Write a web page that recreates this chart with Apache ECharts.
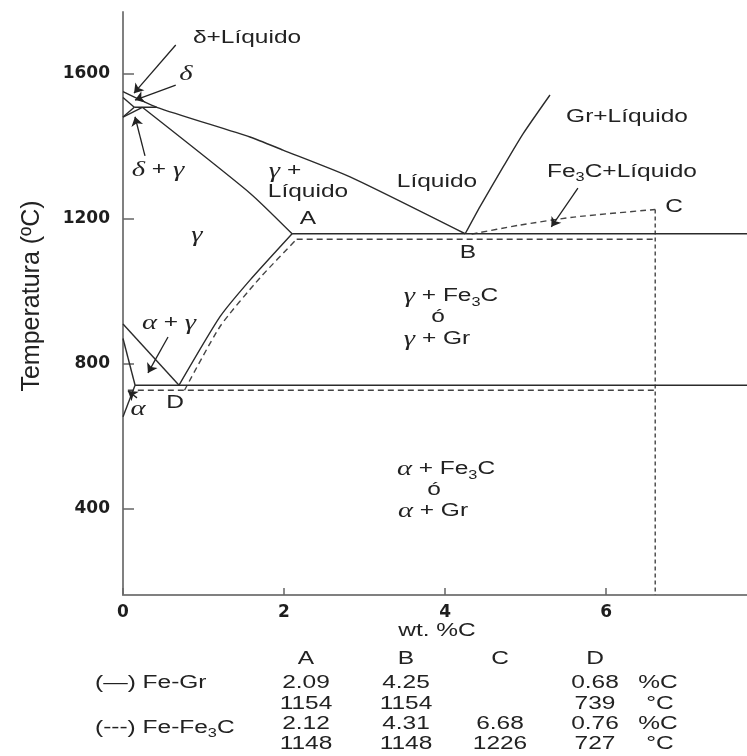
<!DOCTYPE html>
<html><head><meta charset="utf-8">
<script src="https://cdn.jsdelivr.net/npm/echarts@6/dist/echarts.min.js"></script>
<style>html,body{margin:0;padding:0;background:#fff;}#c{width:747px;height:756px;}</style>
</head><body><div id="c"></div>
<script>
// ---- data (wt.%C, temperature °C) ----
const xTicks = [0, 2, 4, 6];
const yTicks = [400, 800, 1200, 1600];
const liquidusToB = [[0,1551],[0.42,1508],[1.577,1426],[1.987,1390],[2.82,1316],[4.25,1159]];
const deltaSolidus = [[0,1535],[0.14,1508]];
const peritectic = [[0.14,1508],[0.42,1508]];
const deltaGammaLeft = [[0,1481],[0.14,1508]];
const deltaGammaRight = [[0,1481],[0.24,1508]];
const solidusToA = [[0.24,1508],[1.577,1271],[2.10,1159]];
const graphiteLiquidus = [[4.25,1159],[4.434,1234],[4.723,1344],[4.972,1436],[5.303,1542]];
const cementiteLiquidus = [[4.33,1158],[4.93,1183],[5.6,1205],[6.61,1226]];
const cementiteVertical = [[6.61,1226],[6.61,162]];
const eutecticGr = [[2.10,1159],[7.75,1159]];
const eutecticFe3C = [[2.157,1144],[6.61,1144]];
const acmGr = [[0.696,741],[1.205,930],[1.577,1031],[2.10,1159]];
const acmFe3C = [[0.764,727],[1.205,903],[1.70,1037],[2.157,1144]];
const eutectoidGr = [[0.15,741],[7.75,741]];
const eutectoidFe3C = [[0.06,727],[6.61,727]];
const a3Line = [[0,910],[0.696,741]];
const alphaUpper = [[0,870],[0.15,741]];
const alphaLower = [[0.15,741],[0,654]];
const arrows = [
  [[0.655,1680],[0.137,1547]],
  [[0.655,1569],[0.149,1528]],
  [[0.273,1374],[0.149,1482]],
  [[5.65,1285],[5.32,1178]],
  [[0.559,874],[0.31,775]],
  [[0.174,706],[0.062,725]]
];
// table
const tableCols = ['A','B','C','D'];
const feGrPct = ['2.09','4.25','','0.68'];
const feGrT = ['1154','1154','','739'];
const feFe3CPct = ['2.12','4.31','6.68','0.76'];
const feFe3CT = ['1148','1148','1226','727'];

// ---- chart ----
const chart = echarts.init(document.getElementById('c'), null, {renderer:'canvas'});
const LINE = '#2b2b2b';
function solid(d, smooth){return {type:'line', data:d, showSymbol:false, symbol:'none', smooth:smooth||0,
  silent:true, lineStyle:{color:LINE, width:1.4}, z:3};}
function dashed(d, smooth, dash){return {type:'line', data:d, showSymbol:false, symbol:'none', smooth:smooth||0,
  silent:true, lineStyle:{color:'#444', width:1.4, type:dash||[6,4]}, z:3};}

const SX = 1.36;
const rich = {
  n:{fontFamily:'Liberation Sans', fontSize:18, fill:'#222', lineHeight:22},
  g:{fontFamily:'Liberation Serif', fontStyle:'italic', fontSize:21, fill:'#222', lineHeight:22},
  s:{fontFamily:'Liberation Sans', fontSize:12, fill:'#222', lineHeight:26, verticalAlign:'bottom'},
  u:{fontFamily:'Liberation Sans', fontSize:12, fill:'#222', lineHeight:23, verticalAlign:'bottom'}
};
function txt(text, x, y, align){
  return {type:'text', x:x, y:y, scaleX:SX, silent:true, z:10,
    style:{text:text, rich:rich, align:align||'center', verticalAlign:'middle',
      fontFamily:'Liberation Sans', fontSize:18, fill:'#222'}};
}
const g = [
  txt('{n|δ+Líquido}',247,38),
  txt('{g|δ}',186,74),
  txt('{g|δ}{n| + }{g|γ}',158,170),
  txt('{g|γ}{n| +}',285,171),
  txt('{n|Líquido}',308,192),
  txt('{n|Líquido}',437,182),
  txt('{n|Gr+Líquido}',627,117),
  txt('{n|Fe}{u|3}{n|C+Líquido}',622,172),
  txt('{n|C}',674,207),
  txt('{n|A}',308,219),
  txt('{n|B}',468,253),
  txt('{g|γ}',197,235),
  txt('{g|γ}{n| + Fe}{s|3}{n|C}',451,296),
  txt('{n|ó}',438,317),
  txt('{g|γ}{n| + Gr}',437,339),
  txt('{g|α}{n| + }{g|γ}',169,323),
  txt('{n|D}',175,403),
  txt('{g|α}',138,409),
  txt('{g|α}{n| + Fe}{s|3}{n|C}',446,469),
  txt('{n|ó}',434,490),
  txt('{g|α}{n| + Gr}',433,511),
  txt('{n|wt. %C}',437,631),
  // y title
  {type:'text', x:32, y:296, rotation:Math.PI/2, scaleY:1.05, silent:true,
    style:{text:'Temperatura (ºC)', align:'center', verticalAlign:'middle', fontFamily:'Liberation Sans', fontSize:25, fill:'#222'}},
  txt('{n|(—) Fe-Gr}',95,683,'left'),
  txt('{n|(---) Fe-Fe}{u|3}{n|C}',95,728,'left'),
  txt('{n|%C}',658,683), txt('{n|°C}',660,704), txt('{n|%C}',658,724), txt('{n|°C}',660,744)
];
const colX = [306,406,500,595];
tableCols.forEach((c,i)=>g.push(txt('{n|'+c+'}',colX[i],659)));
[[feGrPct,683],[feGrT,704],[feFe3CPct,724],[feFe3CT,744]].forEach(([row,y])=>{
  row.forEach((v,i)=>{ if(v) g.push(txt('{n|'+v+'}',colX[i],y)); });
});

const axisLab = {fontFamily:'DejaVu Sans', fontWeight:'bold', fontSize:17, color:'#1e1e1e', formatter:(v)=>String(v)};
const option = {
  animation:false,
  backgroundColor:'#fff',
  grid:{left:123, right:0, top:12, bottom:161, containLabel:false},
  xAxis:{type:'value', min:0, max:7.75,
    axisLine:{show:true, onZero:false, lineStyle:{color:'#808080', width:2}},
    axisTick:{show:true, inside:true, length:7, lineStyle:{color:'#666', width:1.5}, customValues:xTicks},
    axisLabel:Object.assign({margin:9, customValues:xTicks}, axisLab),
    splitLine:{show:false}},
  yAxis:{type:'value', min:162, max:1771,
    axisLine:{show:true, onZero:false, lineStyle:{color:'#808080', width:2}},
    axisTick:{show:true, inside:true, length:11, lineStyle:{color:'#666', width:1.5}, customValues:yTicks},
    axisLabel:Object.assign({margin:13, customValues:yTicks}, axisLab),
    splitLine:{show:false}},
  series:[
    solid(liquidusToB, 0.2),
    solid(deltaSolidus), solid(peritectic), solid(deltaGammaLeft), solid(deltaGammaRight),
    solid(solidusToA, 0.2),
    solid(graphiteLiquidus, 0.2),
    dashed(cementiteLiquidus, 0.2),
    dashed(cementiteVertical, 0, [4,3]),
    solid(eutecticGr), dashed(eutecticFe3C),
    solid(acmGr, 0.2), dashed(acmFe3C, 0.2),
    solid(eutectoidGr), dashed(eutectoidFe3C),
    solid(a3Line), solid(alphaUpper), solid(alphaLower),
    {type:'lines', coordinateSystem:'cartesian2d', silent:true, z:5,
      symbol:['none','arrow'], symbolSize:[0,9],
      lineStyle:{color:'#222', width:1.3, opacity:1},
      data:arrows.map(a=>({coords:a}))}
  ],
  graphic:g
};
chart.setOption(option);
</script></body></html>
